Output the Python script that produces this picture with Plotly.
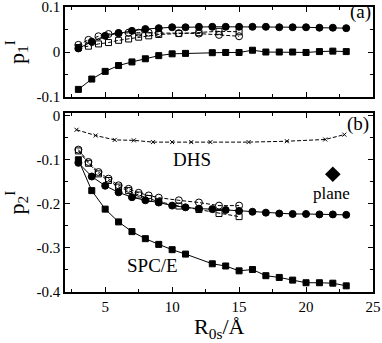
import plotly.graph_objects as go

# ---------------- data ----------------
x_int = [3, 4, 5, 6, 7, 8, 9, 10, 11, 12, 13, 14, 15, 16, 17, 18, 19, 20, 21, 22, 23]
x_spc = [3, 4, 5, 6, 7, 8, 9, 10, 11, 13, 14, 15, 16, 17, 18, 19, 20, 21, 22, 23]
x_open = [3, 3.75, 4.5, 5.25, 6, 6.75, 7.5, 8.25, 9, 10.5, 12, 13.5, 15]
x_dhs = [2.86, 4.29, 5.71, 7.14, 8.57, 10, 11.43, 12.86, 15.71, 18.57, 21.43, 22.86]

# panel (a): p1^I
a_filled_circ = [0.008, 0.023, 0.036, 0.042, 0.047, 0.051, 0.053, 0.055, 0.055, 0.056, 0.056,
                 0.056, 0.056, 0.056, 0.056, 0.055, 0.055, 0.055, 0.054, 0.054, 0.053]
a_spce = [-0.083, -0.060, -0.043, -0.030, -0.022, -0.015, -0.008, -0.004, -0.003, -0.0015,
          -0.001, -0.001, 0.004, 0.0, 0.0, 0.0, -0.001, 0.001, 0.002, 0.001]
a_open_circ = [0.016, 0.027, 0.035, 0.040, 0.042, 0.043, 0.043, 0.043, 0.042, 0.042, 0.041, 0.038, 0.035]
a_open_sq = [0.010, 0.013, 0.018, 0.021, 0.026, 0.029, 0.033, 0.036, 0.039, 0.041, 0.043, 0.046, 0.045]

# panel (b): p2^I
b_filled_circ = [-0.107, -0.138, -0.159, -0.174, -0.185, -0.192, -0.197, -0.204, -0.208, -0.211, -0.212,
                 -0.214, -0.216, -0.218, -0.220, -0.222, -0.223, -0.223, -0.224, -0.224, -0.225]
b_spce = [-0.100, -0.170, -0.212, -0.241, -0.263, -0.279, -0.292, -0.304, -0.314, -0.336,
          -0.341, -0.352, -0.349, -0.363, -0.367, -0.373, -0.379, -0.379, -0.380, -0.386]
b_open_circ = [-0.077, -0.105, -0.128, -0.143, -0.158, -0.166, -0.175, -0.181, -0.186,
               -0.192, -0.197, -0.204, -0.204]
b_open_sq = [-0.080, -0.108, -0.132, -0.147, -0.162, -0.170, -0.180, -0.188, -0.195,
             -0.205, -0.213, -0.222, -0.229]
b_dhs = [-0.032, -0.045, -0.055, -0.056, -0.060, -0.060, -0.060, -0.060, -0.060, -0.058, -0.054, -0.043]
plane_x = [22]
plane_y = [-0.133]

x_ticks = [5, 10, 15, 20, 25]
a_ticks = [0.1, 0, -0.1]
a_ticklabels = ["0.1", "0", "-0.1"]
b_ticks = [0, -0.1, -0.2, -0.3, -0.4]
b_ticklabels = ["0", "-0.1", "-0.2", "-0.3", "-0.4"]

FONT = "Liberation Serif"
fig = go.Figure()


def add(x, y, symbol, size, dash, xa, ya):
    fig.add_trace(go.Scatter(
        x=x, y=y, mode="lines+markers", xaxis=xa, yaxis=ya,
        line=dict(color="black", width=1, dash=dash),
        marker=dict(symbol=symbol, size=size, color="black",
                    line=dict(color="black", width=1)),
        showlegend=False))


# panel a
add(x_open, a_open_sq, "square-open", 6, "4px,2px", "x", "y")
add(x_open, a_open_circ, "circle-open", 7, "4px,2px", "x", "y")
add(x_int, a_filled_circ, "circle", 7, "solid", "x", "y")
add(x_spc, a_spce, "square", 6, "solid", "x", "y")
# panel b
add(x_dhs, b_dhs, "x-thin-open", 4, "4px,2px", "x2", "y2")
add(x_open, b_open_sq, "square-open", 6, "4px,2px", "x2", "y2")
add(x_open, b_open_circ, "circle-open", 7, "4px,2px", "x2", "y2")
add(x_int, b_filled_circ, "circle", 7, "solid", "x2", "y2")
add(x_spc, b_spce, "square", 6, "solid", "x2", "y2")
fig.add_trace(go.Scatter(x=plane_x, y=plane_y, mode="markers", xaxis="x2", yaxis="y2",
                         marker=dict(symbol="diamond", size=12, color="black"),
                         showlegend=False))

ax_common = dict(showline=True, linecolor="black", linewidth=1.5, mirror="allticks",
                 ticks="inside", ticklen=5, tickwidth=1, tickcolor="black",
                 showgrid=False, zeroline=False, automargin=False,
                 ticklabeloverflow="allow",
                 tickfont=dict(family=FONT, size=15, color="black"))

minor_x = dict(dtick=2.5, ticklen=3, tickcolor="black", ticks="inside")
minor_y = dict(dtick=0.05, ticklen=3, tickcolor="black", ticks="inside")

title_font = dict(family=FONT, size=22, color="black")

fig.update_layout(
    width=382, height=343,
    margin=dict(l=65, r=9, t=7, b=51),
    plot_bgcolor="white", paper_bgcolor="white",
    font=dict(family=FONT, color="black"),
    showlegend=False,
    xaxis=dict(ax_common, domain=[0, 1], range=[2, 25], anchor="y",
               tickvals=x_ticks, showticklabels=False, minor=minor_x),
    yaxis=dict(ax_common, domain=[0.684, 1], range=[-0.1, 0.1], anchor="x",
               tickvals=a_ticks, ticktext=a_ticklabels, minor=minor_y,
               title=dict(text="p<sub>1</sub><sup>I</sup>", font=title_font, standoff=6)),
    xaxis2=dict(ax_common, domain=[0, 1], range=[2, 25], anchor="y2",
                tickvals=x_ticks, minor=minor_x),
    yaxis2=dict(ax_common, domain=[0, 0.628], range=[-0.4, 0.006], anchor="x2",
                tickvals=b_ticks, ticktext=b_ticklabels, minor=minor_y,
                title=dict(text="p<sub>2</sub><sup>I</sup>", font=title_font, standoff=6)),
)

ann_font = dict(family=FONT, size=19, color="black")
fig.add_annotation(x=0.5, y=-0.125, xref="paper", yref="paper", yanchor="middle",
                   text="R<sub>0s</sub>/Å", showarrow=False, font=title_font)
fig.add_annotation(x=24.1, y=0.09, xref="x", yref="y", text="(a)", showarrow=False, font=ann_font)
fig.add_annotation(x=23.9, y=-0.018, xref="x2", yref="y2", text="(b)", showarrow=False, font=ann_font)
fig.add_annotation(x=11.5, y=-0.1, xref="x2", yref="y2", text="DHS", showarrow=False, font=ann_font)
fig.add_annotation(x=8.5, y=-0.34, xref="x2", yref="y2", text="SPC/E", showarrow=False, font=ann_font)
fig.add_annotation(x=21.9, y=-0.176, xref="x2", yref="y2", text="plane", showarrow=False,
                   font=dict(family=FONT, size=17, color="black"))

fig.write_html("out.html", config={"displayModeBar": False},
               post_script="document.body.style.margin='0';")
